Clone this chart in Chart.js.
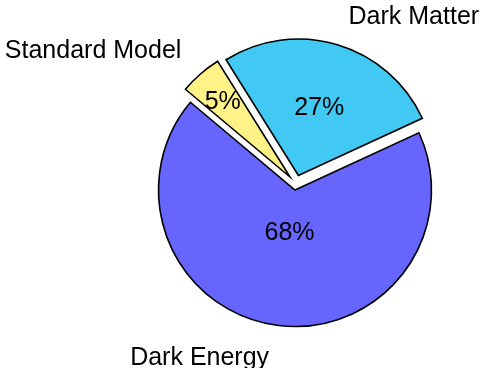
<!DOCTYPE html>
<html>
<head>
<meta charset="utf-8">
<script src="https://cdn.jsdelivr.net/npm/chart.js@4.4.1/dist/chart.umd.min.js"></script>
<style>
  html, body { margin: 0; padding: 0; background: #fff; }
  #pie { display: block; }
</style>
</head>
<body>
<canvas id="pie" width="490" height="368"></canvas>
<script>
// Slices listed clockwise, starting from the upper-left edge
const sliceLabels = ['Standard Model', 'Dark Matter', 'Dark Energy'];
const shares = [5, 27, 68];

const LABEL_FONT = '25px "Liberation Sans", sans-serif';
const CAP = 0.36; // half cap height, in em

// Chart.js' own `offset` also grows the radius of thin slices,
// so pulled-out slices are shifted here by a plain translation instead.
function explodeOf(chart, i) {
    const ds = chart.data.datasets[0];
    return (ds.explode && ds.explode[i]) || { x: 0, y: 0 };
}

const explodeSlices = {
    id: 'explodeSlices',
    beforeDatasetsDraw(chart) {
        chart.getDatasetMeta(0).data.forEach((arc, i) => {
            if (arc._shifted) return;
            const draw = arc.draw;
            arc.draw = function (ctx, area) {
                const d = explodeOf(chart, i);
                ctx.save();
                ctx.translate(d.x, d.y);
                draw.call(this, ctx, area);
                ctx.restore();
            };
            arc._shifted = true;
        });
    }
};

// Writes the percentage inside each slice and the name outside it
const sliceText = {
    id: 'sliceText',
    afterDatasetsDraw(chart) {
        const ctx = chart.ctx;
        const arcs = chart.getDatasetMeta(0).data;
        ctx.save();
        ctx.font = LABEL_FONT;
        ctx.fillStyle = '#000';
        const size = parseFloat(LABEL_FONT);

        arcs.forEach((arc, i) => {
            const { x, y, startAngle, endAngle, outerRadius } = arc.getProps(['x', 'y', 'startAngle', 'endAngle', 'outerRadius'], true);
            const mid = (startAngle + endAngle) / 2;
            const off = explodeOf(chart, i);
            const dx = Math.cos(mid), dy = Math.sin(mid);
            const cx = x + off.x;
            const cy = y + off.y;

            // narrow slices keep the number near the rim, wide ones pull it inward
            const spanDeg = (endAngle - startAngle) * 180 / Math.PI;
            const k = 0.8 + Math.max(Math.min(-0.3 * spanDeg / 110, 0), -0.5);
            ctx.textAlign = 'center';
            ctx.textBaseline = 'alphabetic';
            ctx.fillText(shares[i] + '%', cx + dx * k * outerRadius, cy + dy * k * outerRadius + CAP * size);

            // slice name sits at a corner just beyond the rim
            const px = cx + dx * (outerRadius + 21.5);
            const py = cy + dy * (outerRadius + 21.5);
            const right = dx >= 0;
            ctx.textAlign = right ? 'left' : 'right';
            const tx = px + (right ? 5 : -5);
            const ty = dy < 0 ? py : py + 2 * CAP * size;
            ctx.fillText(sliceLabels[i], tx, ty);
        });
        ctx.restore();
    }
};

new Chart(document.getElementById('pie'), {
    type: 'pie',
    data: {
        labels: sliceLabels,
        datasets: [{
            data: shares,
            backgroundColor: ['#fff387', '#41c8f3', '#6666ff'],
            borderColor: '#000',
            borderWidth: 1.6,
            borderJoinStyle: 'miter',
            explode: [{ x: -5, y: -13 }, { x: 3.4, y: -14.5 }, { x: 0, y: 0 }]
        }]
    },
    options: {
        responsive: false,
        devicePixelRatio: 1,
        animation: false,
        rotation: -50,
        radius: 136.5,
        layout: { padding: { left: 100, right: 0, top: 12, bottom: 0 } },
        plugins: {
            legend: { display: false },
            tooltip: { enabled: false }
        },
        events: []
    },
    plugins: [explodeSlices, sliceText]
});
</script>
</body>
</html>
